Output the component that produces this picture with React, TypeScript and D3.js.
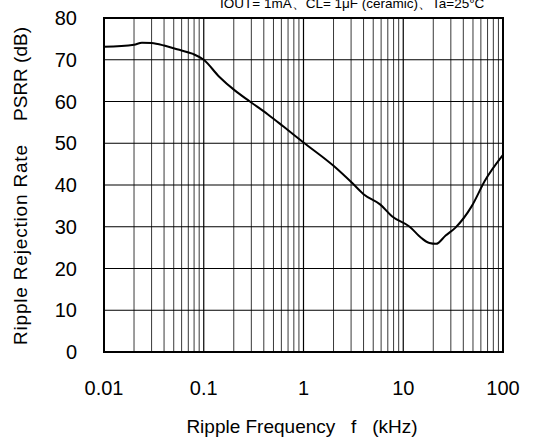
import React from 'react';
import * as d3 from 'd3';

// PSRR curve
const freqKHz = [0.01, 0.02, 0.024, 0.03, 0.04, 0.054, 0.078, 0.1, 0.142, 0.206, 0.29, 0.44, 0.63, 1, 2, 3.1, 4, 5.9, 7.7, 11.6, 15.2, 18.3, 21.3, 26.6, 33.4, 48.8, 65.8, 100];
const psrrDb = [73.1, 73.6, 74.1, 74.0, 73.4, 72.5, 71.4, 70, 66, 62.6, 60, 56.9, 54, 50.2, 44.6, 40.4, 37.8, 35.3, 32.5, 30, 27.3, 26.1, 25.9, 27.9, 29.8, 35, 41, 47.2];

const xTicks = [0.01, 0.1, 1, 10, 100];
const xTickLabels = ['0.01', '0.1', '1', '10', '100'];
const yTicks = [0, 10, 20, 30, 40, 50, 60, 70, 80];

const conditions = 'IOUT= 1mA、CL= 1μF (ceramic)、Ta=25°C';

const W = 533;
const H = 439;
const plot = { left: 104, right: 503, top: 18, bottom: 352 };
const font = 'Arial, "Liberation Sans", sans-serif';

export default function App() {
  const x = d3.scaleLog().domain([0.01, 100]).range([plot.left, plot.right]);
  const y = d3.scaleLinear().domain([0, 80]).range([plot.bottom, plot.top]);

  // minor decade lines 2..9 in every decade
  const minor: number[] = [];
  for (let d = 0.01; d < 100; d *= 10) {
    for (let k = 2; k <= 9; k++) minor.push(+(d * k).toPrecision(3));
  }

  const line = d3.line<number>()
    .x((_, i) => x(freqKHz[i]))
    .y(d => y(d))
    .curve(d3.curveMonotoneX);

  return (
    <svg width={W} height={H} style={{ position: 'absolute', left: 0, top: 0, background: '#fff' }}
      fontFamily={font}>
      <text x={220} y={8} fontSize={13.5} fill="#000">{conditions}</text>

      {/* grid */}
      {minor.map(v => (
        <line key={'m' + v} x1={x(v)} x2={x(v)} y1={plot.top} y2={plot.bottom} stroke="#222" strokeWidth={0.9} />
      ))}
      {xTicks.map(v => (
        <line key={'x' + v} x1={x(v)} x2={x(v)} y1={plot.top} y2={plot.bottom} stroke="#000" strokeWidth={1.2} />
      ))}
      {yTicks.map(v => (
        <line key={'y' + v} x1={plot.left} x2={plot.right} y1={y(v)} y2={y(v)} stroke="#000" strokeWidth={1.2} />
      ))}
      <rect x={plot.left} y={plot.top} width={plot.right - plot.left} height={plot.bottom - plot.top}
        fill="none" stroke="#000" strokeWidth={2} />

      <path d={line(psrrDb) || ''} fill="none" stroke="#000" strokeWidth={2} />

      {/* tick labels */}
      {yTicks.map(v => (
        <text key={'yl' + v} x={77} y={y(v)} dy="0.36em" textAnchor="end" fontSize={20}>{v}</text>
      ))}
      {xTicks.map((v, i) => (
        <text key={'xl' + v} x={x(v)} y={395} textAnchor="middle" fontSize={20}>{xTickLabels[i]}</text>
      ))}

      {/* axis titles */}
      <text x={302} y={433} textAnchor="middle" fontSize={19} style={{ whiteSpace: 'pre' }}>
        {'Ripple Frequency   f   (kHz)'}
      </text>

      <g transform="translate(27,0) rotate(-90)" fontSize={19}>
        <text x={-345} y={0} textAnchor="start" textLength={200} lengthAdjust="spacing">Ripple Rejection Rate</text>
        <text x={-27} y={0} textAnchor="end">PSRR (dB)</text>
      </g>
    </svg>
  );
}
